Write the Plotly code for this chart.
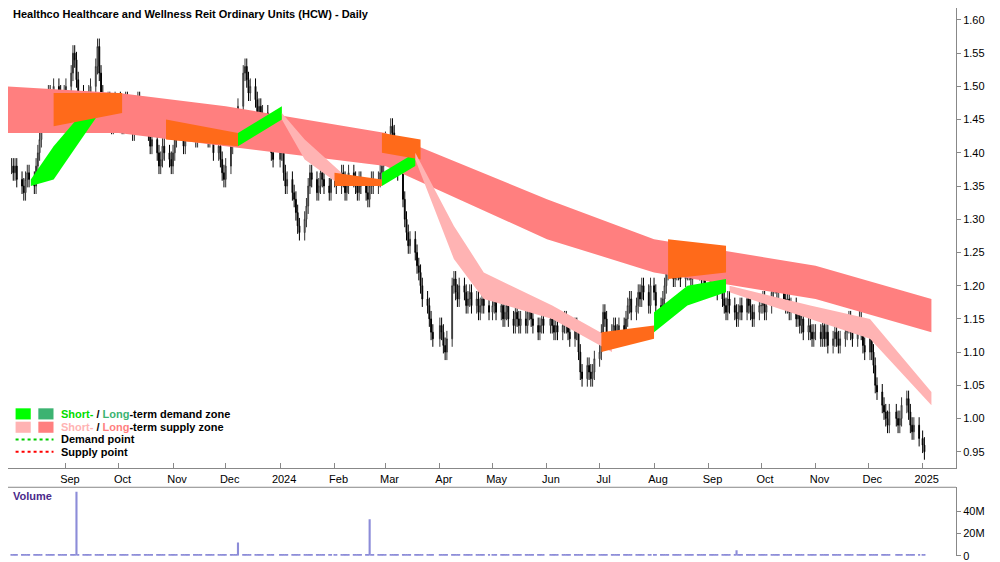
import pandas as pd
import plotly.graph_objects as go

# daily closes by month, Aug 2023 -> Jan 2025
monthly_closes = {
    "2023-08": [1.38,1.37,1.38,1.36,1.35,1.34,1.36,1.37,1.36,1.35,1.38,1.40,1.42,1.45,1.48,1.49,1.47,1.48,1.50,1.49,1.48,1.47,1.49],
    "2023-09": [1.50,1.52,1.55,1.54,1.51,1.49,1.47,1.48,1.46,1.49,1.50,1.53,1.56,1.52,1.49,1.47,1.48,1.46,1.44,1.47,1.48],
    "2023-10": [1.46,1.44,1.47,1.48,1.46,1.43,1.45,1.47,1.48,1.46,1.44,1.45,1.43,1.41,1.42,1.40,1.38,1.39,1.41,1.40,1.39,1.38],
    "2023-11": [1.40,1.42,1.44,1.43,1.41,1.44,1.46,1.45,1.43,1.42,1.44,1.45,1.43,1.44,1.42,1.44,1.43,1.40,1.41,1.39,1.37,1.36],
    "2023-12": [1.38,1.41,1.44,1.43,1.45,1.47,1.52,1.53,1.51,1.49,1.50,1.48,1.46,1.47,1.45,1.46,1.44,1.42,1.40,1.39],
    "2024-01": [1.42,1.40,1.37,1.35,1.36,1.34,1.33,1.31,1.29,1.28,1.30,1.32,1.35,1.37,1.36,1.34,1.35,1.37,1.36,1.35,1.34,1.36],
    "2024-02": [1.36,1.35,1.37,1.36,1.34,1.35,1.37,1.36,1.35,1.34,1.36,1.35,1.34,1.33,1.35,1.36,1.35,1.36,1.37,1.38,1.40],
    "2024-03": [1.42,1.44,1.43,1.41,1.40,1.37,1.33,1.30,1.28,1.26,1.27,1.25,1.23,1.22,1.20,1.18,1.17,1.15,1.13,1.12],
    "2024-04": [1.14,1.13,1.11,1.10,1.12,1.20,1.21,1.19,1.18,1.20,1.19,1.17,1.18,1.19,1.17,1.18,1.16,1.17,1.18,1.17,1.16],
    "2024-05": [1.17,1.18,1.16,1.17,1.15,1.16,1.17,1.15,1.14,1.16,1.15,1.14,1.15,1.14,1.16,1.17,1.15,1.14,1.13,1.14,1.15,1.14],
    "2024-06": [1.15,1.14,1.13,1.14,1.13,1.14,1.15,1.14,1.13,1.12,1.14,1.13,1.10,1.07,1.06,1.08,1.07,1.06,1.07,1.09],
    "2024-07": [1.10,1.13,1.16,1.15,1.13,1.12,1.14,1.13,1.12,1.14,1.13,1.15,1.17,1.18,1.16,1.17,1.19,1.18,1.20,1.19,1.17,1.20],
    "2024-08": [1.19,1.17,1.16,1.18,1.20,1.22,1.23,1.21,1.22,1.23,1.22,1.21,1.22,1.24,1.22,1.21,1.23,1.24,1.22,1.21,1.22,1.20],
    "2024-09": [1.20,1.22,1.24,1.21,1.19,1.18,1.17,1.16,1.18,1.17,1.16,1.15,1.16,1.17,1.16,1.18,1.17,1.16,1.15,1.16,1.17],
    "2024-10": [1.17,1.18,1.16,1.17,1.19,1.20,1.21,1.19,1.20,1.18,1.17,1.18,1.16,1.17,1.15,1.16,1.14,1.15,1.13,1.14,1.13,1.12,1.13],
    "2024-11": [1.13,1.12,1.14,1.12,1.13,1.11,1.12,1.13,1.12,1.11,1.12,1.13,1.14,1.15,1.13,1.12,1.14,1.15,1.13,1.11,1.10],
    "2024-12": [1.12,1.10,1.08,1.05,1.04,1.02,1.01,1.00,0.99,1.01,1.00,0.99,1.00,1.02,1.03,1.01,0.99,0.98,0.99,0.97],
    "2025-01": [0.96,0.95],
}

dates, closes = [], []
for month, vals in monthly_closes.items():
    days = pd.bdate_range(month + "-01", periods=23)
    days = [d for d in days if d.strftime("%Y-%m") == month]
    n = len(vals)
    step = max(len(days) / n, 1) if month != "2025-01" else 1
    for i, v in enumerate(vals):
        dates.append(days[min(int(i * step), len(days) - 1)])
        closes.append(v)

opens = [closes[0]] + closes[:-1]
highs = [max(o, c) + 0.012 for o, c in zip(opens, closes)]
lows = [min(o, c) - 0.012 for o, c in zip(opens, closes)]

# volume spikes (millions), other days ~1.5M
vol_spikes = {"2023-09-07": 58, "2023-12-08": 12, "2024-02-21": 33, "2024-09-17": 5}
volume = [vol_spikes.get(d.strftime("%Y-%m-%d"), 1.5) for d in dates]

# long-term supply zone anchors
lt_dates = ["2023-07-30", "2023-10-01", "2023-12-01", "2024-03-01", "2024-06-01",
            "2024-08-01", "2024-11-01", "2025-01-06"]
lt_upper = [1.50, 1.49, 1.47, 1.43, 1.33, 1.27, 1.23, 1.18]
lt_lower = [1.43, 1.43, 1.41, 1.38, 1.27, 1.22, 1.18, 1.13]

# short-term zone segments: (dates, upper, lower, colour)
st_segments = [
    (["2023-08-12", "2023-08-25", "2023-09-20"], [1.36, 1.41, 1.49], [1.35, 1.36, 1.46], "#00ff00"),
    (["2023-08-25", "2023-10-03"], [1.49, 1.49], [1.44, 1.46], "#ff6a1a"),
    (["2023-10-28", "2023-12-08"], [1.45, 1.43], [1.42, 1.41], "#ff6a1a"),
    (["2023-12-08", "2024-01-02"], [1.43, 1.47], [1.41, 1.45], "#00ff00"),
    (["2024-01-02", "2024-01-15", "2024-02-05"], [1.46, 1.42, 1.37], [1.45, 1.39, 1.35], "#ffb3b3"),
    (["2024-02-01", "2024-02-28"], [1.37, 1.36], [1.35, 1.35], "#ff6a1a"),
    (["2024-02-28", "2024-03-18"], [1.37, 1.40], [1.35, 1.38], "#00ff00"),
    (["2024-02-28", "2024-03-21"], [1.43, 1.42], [1.40, 1.39], "#ff6a1a"),
    (["2024-03-18", "2024-04-09", "2024-04-26", "2024-06-04", "2024-07-08"],
     [1.40, 1.29, 1.22, 1.17, 1.12], [1.39, 1.24, 1.18, 1.15, 1.10], "#ffb3b3"),
    (["2024-07-02", "2024-08-01"], [1.13, 1.14], [1.10, 1.12], "#ff6a1a"),
    (["2024-08-01", "2024-08-20", "2024-09-11"], [1.16, 1.20, 1.21], [1.13, 1.17, 1.19], "#00ff00"),
    (["2024-08-09", "2024-09-11"], [1.27, 1.26], [1.21, 1.22], "#ff6a1a"),
    (["2024-09-13", "2024-10-29", "2024-12-02", "2025-01-06"],
     [1.20, 1.17, 1.15, 1.04], [1.19, 1.15, 1.12, 1.02], "#ffb3b3"),
]

month_ticks = pd.date_range("2023-09-01", "2025-01-01", freq="MS")
month_text = [d.strftime("%Y") if d.month == 1 else d.strftime("%b") for d in month_ticks]
price_ticks = [0.95, 1.00, 1.05, 1.10, 1.15, 1.20, 1.25, 1.30, 1.35, 1.40, 1.45, 1.50, 1.55, 1.60]
x_range = ["2023-07-30", "2025-01-20"]

fig = go.Figure()

fig.add_trace(go.Scatter(x=lt_dates, y=lt_upper, mode="lines", line=dict(width=0),
                         hoverinfo="skip", showlegend=False))
fig.add_trace(go.Scatter(x=lt_dates, y=lt_lower, mode="lines", line=dict(width=0),
                         fill="tonexty", fillcolor="#ff7f7f", hoverinfo="skip", showlegend=False))
for sd, up, lo, col in st_segments:
    fig.add_trace(go.Scatter(x=sd, y=up, mode="lines", line=dict(width=0),
                             hoverinfo="skip", showlegend=False))
    fig.add_trace(go.Scatter(x=sd, y=lo, mode="lines", line=dict(width=0), fill="tonexty",
                             fillcolor=col, hoverinfo="skip", showlegend=False))

fig.add_trace(go.Candlestick(
    x=dates, open=opens, high=highs, low=lows, close=closes,
    increasing=dict(line=dict(color="#333333", width=1), fillcolor="#d9d9d9"),
    decreasing=dict(line=dict(color="#000000", width=1), fillcolor="#000000"),
    whiskerwidth=0, showlegend=False))

fig.add_trace(go.Bar(x=dates, y=volume, marker=dict(color="#8c8cd8", line=dict(width=0)),
                     width=86400000 * 1.2, xaxis="x2", yaxis="y2", showlegend=False))

fig.update_layout(
    width=1000, height=562, margin=dict(l=0, r=52, t=0, b=6),
    paper_bgcolor="white", plot_bgcolor="white",
    font=dict(family="Liberation Sans, Arial", size=11, color="#000"),
    xaxis=dict(domain=[0, 1], range=x_range, rangeslider=dict(visible=False),
               tickvals=month_ticks, ticktext=month_text, ticks="inside", ticklen=5,
               tickcolor="#888", ticklabelshift=4, showgrid=False, showline=True,
               linecolor="#888", tickfont=dict(size=11), anchor="y"),
    yaxis=dict(domain=[0.172, 1], range=[0.925, 1.618], side="right", tickvals=price_ticks,
               tickformat=".2f", showgrid=False, ticks="outside", ticklen=4, tickcolor="#888",
               showline=True, linecolor="#888", tickfont=dict(size=11)),
    xaxis2=dict(domain=[0, 1], range=x_range, showticklabels=False,
                showgrid=False, anchor="y2", matches="x"),
    yaxis2=dict(domain=[0.015, 0.138], range=[0, 62], side="right", tickvals=[0, 20, 40],
                ticktext=["0", "20M", "40M"], showgrid=False, ticks="outside", ticklen=4,
                tickcolor="#888", showline=True, linecolor="#888", tickfont=dict(size=11)),
    shapes=[
        dict(type="line", xref="paper", yref="paper", x0=0, x1=1, y0=0.138, y1=0.138,
             line=dict(color="#888", width=1)),
        dict(type="rect", xref="paper", yref="paper", x0=0.008, x1=0.024, y0=0.26, y1=0.28,
             fillcolor="#00ff00", line=dict(width=0)),
        dict(type="rect", xref="paper", yref="paper", x0=0.032, x1=0.048, y0=0.26, y1=0.28,
             fillcolor="#3cb371", line=dict(width=0)),
        dict(type="rect", xref="paper", yref="paper", x0=0.008, x1=0.024, y0=0.236, y1=0.256,
             fillcolor="#ffb3b3", line=dict(width=0)),
        dict(type="rect", xref="paper", yref="paper", x0=0.032, x1=0.048, y0=0.236, y1=0.256,
             fillcolor="#ff7f7f", line=dict(width=0)),
        dict(type="line", xref="paper", yref="paper", x0=0.008, x1=0.048, y0=0.224, y1=0.224,
             line=dict(color="#00cc00", width=2, dash="dot")),
        dict(type="line", xref="paper", yref="paper", x0=0.008, x1=0.048, y0=0.202, y1=0.202,
             line=dict(color="#ff0000", width=2, dash="dot")),
    ],
    annotations=[
        dict(text="<b>Healthco Healthcare and Wellness Reit Ordinary Units (HCW) - Daily</b>",
             xref="paper", yref="paper", x=0.003, y=1.003, xanchor="left", yanchor="top",
             showarrow=False, font=dict(size=11)),
        dict(text="<b>Volume</b>", xref="paper", yref="paper", x=0.003, y=0.137,
             xanchor="left", yanchor="top", showarrow=False, font=dict(size=11, color="#4b2a8a")),
        dict(text="<b><span style='color:#00dd00'>Short-</span> / <span style='color:#3cb371'>Long</span>-term demand zone</b>",
             xref="paper", yref="paper", x=0.054, y=0.27, xanchor="left", yanchor="middle",
             showarrow=False, font=dict(size=11)),
        dict(text="<b><span style='color:#ffb3b3'>Short-</span> / <span style='color:#ff7f7f'>Long</span>-term supply zone</b>",
             xref="paper", yref="paper", x=0.054, y=0.246, xanchor="left", yanchor="middle",
             showarrow=False, font=dict(size=11)),
        dict(text="<b>Demand point</b>", xref="paper", yref="paper", x=0.054, y=0.224,
             xanchor="left", yanchor="middle", showarrow=False, font=dict(size=11)),
        dict(text="<b>Supply point</b>", xref="paper", yref="paper", x=0.054, y=0.202,
             xanchor="left", yanchor="middle", showarrow=False, font=dict(size=11)),
    ],
)

fig.write_html("out.html")
